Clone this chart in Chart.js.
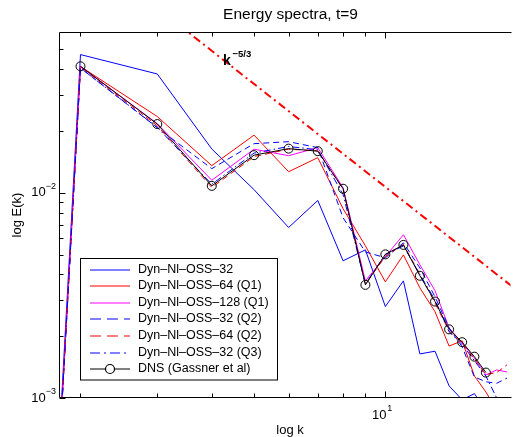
<!DOCTYPE html>
<html>
<head>
<meta charset="utf-8">
<script src="https://cdn.jsdelivr.net/npm/chart.js@4.4.1/dist/chart.umd.min.js"></script>
<style>
  html, body { margin: 0; padding: 0; background: #fff; overflow: hidden; }
</style>
</head>
<body>
<canvas id="spectra" width="516" height="437"></canvas>
<script>
// wavenumbers k (the k=1 value is almost zero, so every curve shoots up from the bottom)
var kValues = [1, 2, 3, 4, 5, 6, 7, 8, 9, 10, 11, 12, 13, 14, 15, 16, 17, 18, 19];

// E(k)
var dyn32    = [1e-13, 0.0471, 0.0379, 0.01633, 0.01035, 0.00677, 0.00917, 0.00466, 0.00527, 0.00279, 0.00372, 0.00164, 0.00169, 0.001145, 0.00098, 0.00105, 0.00087, 0.0008, null];
var dyn64Q1  = [1e-13, 0.0412, 0.0235, 0.01355, 0.01908, 0.01266, 0.01482, 0.00836, 0.00551, 0.00368, 0.00498, 0.00344, 0.00263, 0.00179, 0.0019, 0.00128, 0.00107, 0.00087, null];
var dyn128Q1 = [1e-13, 0.0412, 0.02171, 0.0115, 0.0163, 0.01515, 0.01658, 0.01058, 0.00372, 0.00488, 0.00624, 0.00446, 0.00333, 0.002195, 0.001855, 0.001567, 0.001295, 0.00137, 0.00134];
var dyn32Q2  = [1e-13, 0.0405, 0.02075, 0.0131, 0.01734, 0.01773, 0.01658, 0.00755, 0.00515, 0.00482, 0.0057, 0.0043, 0.00311, 0.002195, 0.001774, 0.001266, 0.0012, 0.00118, 0.00125];
var dyn64Q2  = [1e-13, 0.0410, 0.0212, 0.0106, 0.0150, 0.0163, 0.0160, 0.0104, 0.00358, 0.0049, 0.0056, 0.0040, 0.0029, 0.00212, 0.00185, 0.00155, 0.0013, 0.00133, 0.00145];
var dyn32Q3  = [1e-13, 0.0405, 0.0208, 0.0110, 0.0156, 0.0168, 0.0162, 0.0098, 0.0036, 0.0050, 0.0055, 0.0040, 0.0030, 0.0021, 0.00182, 0.00152, 0.00128, 0.00100, null];
var dns      = [null, 0.0413, 0.0216, 0.0108, 0.01524, 0.0164, 0.01594, 0.01046, 0.003557, 0.00501, 0.00557, 0.00394, 0.00295, 0.00216, 0.00187, 0.00159, 0.00133, null, null];

// k^-5/3 reference line, two end points
var refK = [2, 20];
var refE = [0.156, 0.00336];

// axis ticks
var xMajorTicks = [10];
var xMinorTicks = [2, 3, 4, 5, 6, 7, 8, 9];
var yMajorTicks = [0.001, 0.01];
var yMinorTicks = [0.002, 0.003, 0.004, 0.005, 0.006, 0.007, 0.008, 0.009, 0.02, 0.03, 0.04, 0.05];
var xTickLabels = [{ value: 10, base: '10', exp: '1' }];
var yTickLabels = [{ value: 0.01, base: '10', exp: '\u22122' }, { value: 0.001, base: '10', exp: '\u22123' }];

var FONT = '"Liberation Sans", Arial, Helvetica, sans-serif';

function points(xs, ys) {
  var out = [];
  for (var i = 0; i < xs.length; i++) {
    if (ys[i] != null) out.push({ x: xs[i], y: ys[i] });
  }
  return out;
}

function series(label, values, color, dash, legendDash, order) {
  return {
    label: label,
    data: points(kValues, values),
    borderColor: color,
    borderWidth: 1,
    borderDash: dash,
    legendDash: legendDash,
    inLegend: true,
    pointRadius: 0,
    fill: false,
    order: order
  };
}

var datasets = [
  series('Dyn\u2013Nl\u2013OSS\u201332', dyn32, '#0000ff', [], [], 7),
  series('Dyn\u2013Nl\u2013OSS\u201364 (Q1)', dyn64Q1, '#ff0000', [], [], 6),
  series('Dyn\u2013Nl\u2013OSS\u2013128 (Q1)', dyn128Q1, '#ff00ff', [], [], 5),
  series('Dyn\u2013Nl\u2013OSS\u201332 (Q2)', dyn32Q2, '#0000ff', [6, 4], [11, 6], 4),
  series('Dyn\u2013Nl\u2013OSS\u201364 (Q2)', dyn64Q2, '#ff0000', [6, 4], [11, 6], 3),
  series('Dyn\u2013Nl\u2013OSS\u201332 (Q3)', dyn32Q3, '#0000ff', [7, 3, 1.5, 3], [10, 4, 2, 4], 2),
  {
    label: 'DNS (Gassner et al)',
    data: points(kValues, dns),
    borderColor: '#000000',
    borderWidth: 1,
    inLegend: true,
    legendMarker: true,
    pointRadius: 4.5,
    pointBackgroundColor: 'rgba(0,0,0,0)',
    pointBorderColor: '#000000',
    pointBorderWidth: 1,
    fill: false,
    order: 0
  },
  {
    label: 'k^-5/3',
    data: points(refK, refE),
    borderColor: '#ff0000',
    borderWidth: 2,
    borderDash: [8, 4, 2, 4],
    pointRadius: 0,
    fill: false,
    order: 1
  }
];

// frame, inward ticks, tick labels, titles and legend box
var decorations = {
  id: 'decorations',
  afterDraw: function(chart) {
    var ctx = chart.ctx;
    var a = chart.chartArea;
    var xs = chart.scales.x, ys = chart.scales.y;
    var L = Math.round(a.left) - 0.5, T = Math.round(a.top) - 0.5, B = Math.round(a.bottom) - 0.5, R = Math.round(a.right) + 0.5;
    ctx.save();
    ctx.strokeStyle = '#000';
    ctx.lineWidth = 1;
    ctx.setLineDash([]);
    ctx.beginPath();
    ctx.moveTo(R, T); ctx.lineTo(L, T); ctx.lineTo(L, B); ctx.lineTo(R, B);
    ctx.stroke();

    function xTick(v, len) {
      var px = Math.round(xs.getPixelForValue(v)) + 0.5;
      ctx.moveTo(px, B); ctx.lineTo(px, B - len);
      ctx.moveTo(px, T); ctx.lineTo(px, T + len);
    }
    function yTick(v, len) {
      var py = Math.round(ys.getPixelForValue(v)) + 0.5;
      ctx.moveTo(L, py); ctx.lineTo(L + len, py);
    }
    ctx.beginPath();
    xMajorTicks.forEach(function(v) { xTick(v, 6); });
    xMinorTicks.forEach(function(v) { xTick(v, 4); });
    yMajorTicks.forEach(function(v) { yTick(v, 6); });
    yMinorTicks.forEach(function(v) { yTick(v, 4); });
    ctx.stroke();

    ctx.fillStyle = '#000';
    ctx.textBaseline = 'middle';
    // y tick labels
    yTickLabels.forEach(function(t) {
      var py = ys.getPixelForValue(t.value);
      ctx.font = '9px ' + FONT;
      ctx.textAlign = 'right';
      var expW = ctx.measureText(t.exp).width;
      ctx.fillText(t.exp, 56, py - 6);
      ctx.font = '13px ' + FONT;
      ctx.fillText(t.base, 56 - expW, py);
    });
    // x tick labels
    xTickLabels.forEach(function(t) {
      var px = xs.getPixelForValue(t.value);
      ctx.font = '13px ' + FONT;
      ctx.textAlign = 'right';
      ctx.fillText(t.base, px + 1, 415);
      ctx.font = '9px ' + FONT;
      ctx.textAlign = 'left';
      ctx.fillText(t.exp, px + 2, 409);
    });

    // titles
    ctx.textAlign = 'center';
    ctx.font = '15.5px ' + FONT;
    ctx.fillText('Energy spectra, t=9', 290.5, 15);
    ctx.font = '13px ' + FONT;
    ctx.fillText('log k', 290, 430);
    ctx.save();
    ctx.translate(17, 215);
    ctx.rotate(-Math.PI / 2);
    ctx.fillText('log E(k)', 0, 0);
    ctx.restore();

    // k^-5/3 label
    ctx.textAlign = 'left';
    ctx.font = 'bold 14px ' + FONT;
    ctx.fillText('k', 223, 61);
    ctx.font = 'bold 9.5px ' + FONT;
    ctx.fillText('\u22125/3', 232.5, 54);

    // legend
    var box = { x: 80.5, y: 258.5, w: 197, h: 121.5 };
    ctx.fillStyle = '#fff';
    ctx.fillRect(box.x, box.y, box.w, box.h);
    ctx.strokeStyle = '#000';
    ctx.strokeRect(box.x, box.y, box.w, box.h);
    var items = chart.data.datasets.filter(function(d) { return d.inLegend; });
    items.forEach(function(d, i) {
      var cy = Math.round(269.5 + i * 16.6);
      ctx.strokeStyle = d.borderColor;
      ctx.lineWidth = 1.2;
      ctx.setLineDash(d.legendDash || []);
      ctx.beginPath();
      ctx.moveTo(90, cy); ctx.lineTo(130, cy);
      ctx.stroke();
      ctx.setLineDash([]);
      if (d.legendMarker) {
        ctx.fillStyle = '#fff';
        ctx.beginPath();
        ctx.arc(110, cy, 4.5, 0, Math.PI * 2);
        ctx.fill();
        ctx.stroke();
      }
      ctx.fillStyle = '#000';
      ctx.font = '12.5px ' + FONT;
      ctx.textAlign = 'left';
      ctx.fillText(d.label, 138, cy);
    });
    ctx.restore();
  }
};

var chart = new Chart(document.getElementById('spectra'), {
  type: 'line',
  data: { datasets: datasets },
  options: {
    responsive: false,
    animation: false,
    devicePixelRatio: 1,
    layout: { padding: { top: 33, left: 0, right: 0, bottom: 0 } },
    elements: { line: { tension: 0 } },
    plugins: {
      legend: { display: false },
      title: { display: false },
      tooltip: { enabled: false }
    },
    scales: {
      x: {
        type: 'logarithmic',
        min: 1.795,
        max: 19.36,
        ticks: { display: false },
        grid: { display: false },
        border: { display: false },
        afterFit: function(s) { s.height = 39; }
      },
      y: {
        type: 'logarithmic',
        min: 0.001,
        max: 0.06,
        ticks: { display: false },
        grid: { display: false },
        border: { display: false },
        afterFit: function(s) { s.width = 60; }
      }
    }
  },
  plugins: [decorations]
});
</script>
</body>
</html>
